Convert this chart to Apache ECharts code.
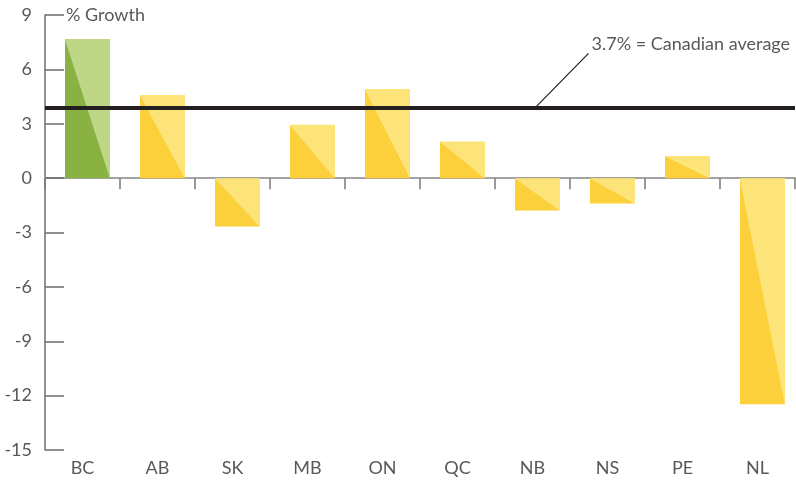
<!DOCTYPE html>
<html>
<head>
<meta charset="utf-8">
<script src="https://cdn.jsdelivr.net/npm/echarts@6/dist/echarts.min.js"></script>
<style>
  html, body { margin: 0; padding: 0; background: #fff; }
  #main { width: 796px; height: 481px; }
</style>
</head>
<body>
<div id="main"></div>
<script>
'use strict'
// provinces and % growth
var provinces = ['BC', 'AB', 'SK', 'MB', 'ON', 'QC', 'NB', 'NS', 'PE', 'NL']
var growth = [7.67, 4.59, -2.67, 2.94, 4.92, 2.02, -1.78, -1.4, 1.22, -12.47]
var yTicks = { min: -15, max: 9, interval: 3 }
var avgLine = 3.9
var avgLabel = '3.7% = Canadian average'
var highlight = 'BC'

var FONT = 'Lato, "Liberation Sans", sans-serif'
var TEXT = '#58595b'
var colors = {
  green: { dark: '#89b243', light: '#bed787' },
  yellow: { dark: '#fcd03a', light: '#fde478' }
}

var chart = echarts.init(document.getElementById('main'))

function renderBar(params, api) {
  var i = api.value(0)
  var v = api.value(1)
  var p0 = api.coord([i, Math.max(v, 0)])
  var p1 = api.coord([i, Math.min(v, 0)])
  var band = api.size([1, 0])[0]
  var w = band * 0.6
  var cx = p0[0] + band * 0.067 // bars sit a bit right of centre
  var l = cx - w / 2, r = cx + w / 2, t = p0[1], b = p1[1]
  var c = provinces[params.dataIndex] === highlight ? colors.green : colors.yellow
  return {
    type: 'group',
    children: [
      { type: 'polygon', shape: { points: [[l, t], [r, t], [r, b]] }, style: { fill: c.light } },
      { type: 'polygon', shape: { points: [[l, t], [l, b], [r, b]] }, style: { fill: c.dark } }
    ]
  }
}

var option = {
  animation: false,
  grid: { left: 45, right: 1, top: 15, bottom: 31, containLabel: false, outerBoundsMode: 'none' },
  xAxis: [
    {
      type: 'category',
      data: provinces,
      position: 'bottom',
      axisLine: { show: true, onZero: true, lineStyle: { color: '#a3a3a3', width: 2 } },
      axisTick: { show: true, length: 11, lineStyle: { color: '#7a7a7a', width: 1.5 } },
      axisLabel: { show: false },
      splitLine: { show: false }
    },
    {
      type: 'category',
      data: provinces,
      position: 'bottom',
      axisLine: { show: false, onZero: false },
      axisTick: { show: false },
      axisLabel: { show: true, margin: 9, color: TEXT, fontSize: 18, fontFamily: FONT },
      splitLine: { show: false }
    }
  ],
  yAxis: {
    type: 'value',
    min: yTicks.min,
    max: yTicks.max,
    interval: yTicks.interval,
    axisLine: { show: true, lineStyle: { color: '#6d6e71', width: 1.5 } },
    axisTick: { show: true, inside: true, length: 19, lineStyle: { color: '#6d6e71', width: 1.5 } },
    axisLabel: { margin: 13, color: TEXT, fontSize: 18, fontFamily: FONT },
    splitLine: { show: false }
  },
  series: [
    {
      type: 'custom',
      xAxisIndex: 0,
      renderItem: renderBar,
      data: growth.map(function(v, i) { return [i, v] }),
      z: 2
    },
    {
      type: 'line',
      xAxisIndex: 0,
      data: [],
      z: 5,
      markLine: {
        silent: true,
        symbol: 'none',
        label: { show: false },
        lineStyle: { color: '#231f20', width: 4, type: 'solid' },
        data: [{ yAxis: avgLine }]
      }
    }
  ]
}
chart.setOption(option)

// annotation: label + leader line hooked onto the average line
var toPx = function(p) {
  return chart.convertToPixel({ xAxisIndex: 0, yAxisIndex: 0 }, p)
}
var anchor = toPx([6, avgLine])
var c0 = toPx([0, yTicks.max])
var c1 = toPx([1, yTicks.max])
var axisX = c0[0] - (c1[0] - c0[0]) / 2
var ax = anchor[0] + 4
var ay = anchor[1] - 1
chart.setOption({
  graphic: [
    {
      type: 'text',
      x: axisX + 21,
      y: c0[1],
      style: { text: '% Growth', fill: TEXT, fontSize: 18, fontFamily: FONT, verticalAlign: 'middle' }
    },
    {
      type: 'line',
      shape: { x1: ax, y1: ay, x2: ax + 52, y2: ay - 53 },
      style: { stroke: '#231f20', lineWidth: 1.2 },
      z: 10
    },
    {
      type: 'text',
      x: ax + 55,
      y: ay - 62,
      style: { text: avgLabel, fill: TEXT, fontSize: 18, fontFamily: FONT, verticalAlign: 'middle' },
      z: 10
    }
  ]
})
</script>
</body>
</html>
